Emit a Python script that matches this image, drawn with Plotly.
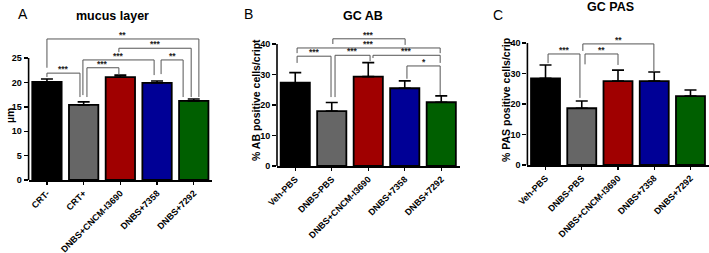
import plotly.graph_objects as go

# ---------------- data ----------------
categories_A = ["CRT-", "CRT+", "DNBS+CNCM-I3690", "DNBS+7358", "DNBS+7292"]
categories_BC = ["Veh-PBS", "DNBS-PBS", "DNBS+CNCM-I3690", "DNBS+7358", "DNBS+7292"]

mucus_mean = [20.1, 15.4, 21.1, 19.9, 16.2]
mucus_sem = [0.6, 0.6, 0.4, 0.4, 0.4]

ab_mean = [27.3, 18.0, 29.3, 25.5, 20.9]
ab_sem = [3.3, 2.8, 4.6, 2.4, 2.1]

pas_mean = [28.4, 18.6, 27.5, 27.5, 22.6]
pas_sem = [4.4, 2.4, 3.6, 3.0, 2.0]

yticks_A = [0, 5, 10, 15, 20, 25]
yticks_BC = [0, 10, 20, 30, 40]

# significance labels for each comparison (group i vs group j)
sig_A = [(0, 4, "**"), (2, 4, "***"), (1, 3, "***"), (3, 4, "**"), (0, 1, "***"), (1, 2, "***")]
sig_B = [(1, 3, "***"), (0, 4, "***"), (0, 1, "***"), (1, 2, "***"), (2, 4, "***"), (3, 4, "*")]
sig_C = [(1, 3, "**"), (0, 1, "***"), (1, 2, "**")]

# ---------------- bracket geometry (x offsets, bracket height, leg bottoms) ----------------
geo_A = [(0.0, 4.14, 28.9, 23.0, 17.0), (1.96, 3.93, 27.0, 26.2, 17.0),
         (0.98, 2.92, 24.6, 17.4, 21.5), (3.11, 3.71, 24.6, 21.7, 17.0),
         (0.0, 0.9, 21.9, 21.1, 17.0), (1.09, 1.96, 23.0, 17.0, 21.5)]
geo_B = [(1.03, 3.01, 41.7, 40.0, 39.7), (0.05, 3.97, 38.7, 37.0, 37.0),
         (0.05, 0.98, 36.0, 33.8, 22.6), (1.09, 2.05, 36.3, 22.6, 34.4),
         (2.13, 3.97, 36.3, 35.4, 33.8), (3.06, 3.97, 32.8, 28.6, 23.3)]
geo_C = [(1.03, 2.99, 39.7, 37.4, 30.5), (0.07, 0.95, 36.4, 33.4, 22.0),
         (1.09, 2.0, 36.4, 33.0, 32.8)]

colors = ["#000000", "#666666", "#a00000", "#000096", "#005f00"]

W, H = 709, 253
def fx(p):
    return p / W
def fy(p):
    return 1 - p / H

FONT = "Liberation Sans, Arial, sans-serif"

panels = [
    dict(cats=categories_A, mean=mucus_mean, sem=mucus_sem, ticks=yticks_A,
         xdom=(28.6, 212.1), ybot=180, ytop=30, ppu=4.88, bargap=0.29,
         sig=sig_A, geo=geo_A, title="mucus layer", tpos=(112, 16), letter="A", lpos=(23, 14),
         ylab="µm", ylpos=(10, 116)),
    dict(cats=categories_BC, mean=ab_mean, sem=ab_sem, ticks=yticks_BC,
         xdom=(277, 459.5), ybot=166, ytop=30, ppu=3.05, bargap=0.315,
         sig=sig_B, geo=geo_B, title="GC AB", tpos=(363, 16), letter="B", lpos=(248, 14),
         ylab="% AB positive cells/cript", ylpos=(256, 100)),
    dict(cats=categories_BC, mean=pas_mean, sem=pas_sem, ticks=yticks_BC,
         xdom=(527.4, 708.6), ybot=165, ytop=30, ppu=3.05, bargap=0.31,
         sig=sig_C, geo=geo_C, title="GC PAS", tpos=(610, 7), letter="C", lpos=(498, 15),
         ylab="% PAS positive cells/crip", ylpos=(506, 100)),
]

fig = go.Figure()
shapes = []
annotations = []
layout = dict(width=W, height=H, margin=dict(l=0, r=0, t=0, b=0),
              paper_bgcolor="white", plot_bgcolor="white", showlegend=False,
              font=dict(family=FONT, color="black"))

for k, p in enumerate(panels, start=1):
    xa = "x" if k == 1 else f"x{k}"
    ya = "y" if k == 1 else f"y{k}"
    xs = list(range(len(p["cats"])))
    fig.add_trace(go.Bar(
        x=xs, y=p["mean"], xaxis=xa, yaxis=ya,
        marker=dict(color=colors, line=dict(color="black", width=1.8)),
        error_y=dict(type="data", array=p["sem"], arrayminus=[0] * len(xs), symmetric=False,
                     color="black", thickness=1.6, width=6),
    ))
    ymax = (p["ybot"] - p["ytop"]) / p["ppu"]
    layout[f"xaxis{k}" if k > 1 else "xaxis"] = dict(
        domain=[fx(p["xdom"][0]), fx(p["xdom"][1])], range=[-0.5, 4.5],
        anchor=ya, tickvals=xs, ticktext=p["cats"], tickangle=-45,
        showline=True, linecolor="black", linewidth=1.6,
        ticks="outside", ticklen=3, tickwidth=1.4, tickcolor="black",
        tickfont=dict(family=FONT, size=9, weight="bold"), showgrid=False, zeroline=False,
        fixedrange=True, automargin=False)
    layout[f"yaxis{k}" if k > 1 else "yaxis"] = dict(
        domain=[fy(p["ybot"]), fy(p["ytop"])], range=[0, ymax], anchor=xa,
        tickvals=p["ticks"], showline=False, ticks="outside", ticklen=4, tickwidth=1.4,
        tickcolor="black", tickfont=dict(family=FONT, size=9, weight="bold"),
        showgrid=False, zeroline=False, fixedrange=True, automargin=False)
    # y-axis line only up to the last tick (Prism style)
    shapes.append(dict(type="line", xref=f"{xa} domain", yref=ya, x0=0, x1=0,
                       y0=0, y1=p["ticks"][-1], line=dict(color="black", width=1.6)))
    # significance brackets
    for (i, j, lab), (xl, xr, yt, yl, yr) in zip(p["sig"], p["geo"]):
        shapes.append(dict(type="path", xref=xa, yref=ya,
                           path=f"M {xl},{yl} L {xl},{yt} L {xr},{yt} L {xr},{yr}",
                           line=dict(color="#555555", width=1)))
        annotations.append(dict(x=(xl + xr) / 2, y=yt, xref=xa, yref=ya, text=lab,
                                showarrow=False, yanchor="middle", yshift=4,
                                font=dict(family=FONT, size=8.5, color="#222222", weight="bold")))
    # title, letter, y label
    annotations.append(dict(x=fx(p["tpos"][0]), y=fy(p["tpos"][1]), xref="paper", yref="paper",
                            text=p["title"], showarrow=False, xanchor="center", yanchor="middle",
                            font=dict(family=FONT, size=12.5, weight="bold")))
    annotations.append(dict(x=fx(p["lpos"][0]), y=fy(p["lpos"][1]), xref="paper", yref="paper",
                            text=p["letter"], showarrow=False, xanchor="center", yanchor="middle",
                            font=dict(family=FONT, size=14)))
    annotations.append(dict(x=fx(p["ylpos"][0]), y=fy(p["ylpos"][1]), xref="paper", yref="paper",
                            text=p["ylab"], showarrow=False, xanchor="center", yanchor="middle",
                            textangle=-90, font=dict(family=FONT, size=10.5, weight="bold")))

layout["shapes"] = shapes
layout["annotations"] = annotations
fig.update_layout(**layout)
fig.write_html("out.html", config={"displayModeBar": False, "staticPlot": True},
               post_script="document.body.style.margin='0';document.body.style.padding='0';")
